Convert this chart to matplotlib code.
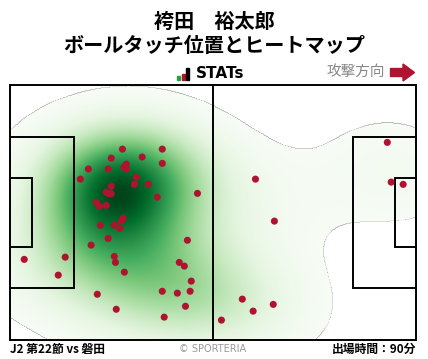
import numpy as np
import matplotlib
matplotlib.use("Agg")
import matplotlib.pyplot as plt
from matplotlib.colors import PowerNorm
from matplotlib.patches import Rectangle, Polygon

# タッチ位置 (m, 105x68 ピッチ, 左→右に攻撃)
touch_x = [29.0, 39.3, 26.1, 34.1, 39.3, 20.2, 25.3, 29.4, 30.0, 30.0,
           18.1, 32.6, 32.1, 35.7, 26.1, 24.8, 25.5, 26.1, 38.0, 48.4,
           22.2, 23.0, 24.8, 29.2, 28.7, 23.3, 26.9, 28.4, 25.3, 20.9,
           45.8, 3.6, 14.2, 12.4, 26.9, 27.2, 43.7, 45.0, 29.5, 46.8,
           22.5, 39.3, 43.2, 46.5, 45.3, 27.4, 39.8, 97.5, 98.5, 101.6,
           63.4, 68.3, 60.0, 62.8, 68.0, 54.6]
touch_y = [50.9, 50.9, 48.5, 48.8, 47.1, 45.6, 45.6, 46.1, 46.9, 45.6,
           42.9, 43.4, 41.5, 41.5, 41.0, 39.4, 39.0, 39.0, 38.1, 39.1,
           36.7, 35.7, 35.9, 32.5, 31.7, 30.6, 30.6, 29.8, 27.1, 25.3,
           26.6, 21.5, 22.1, 17.3, 22.3, 20.7, 20.7, 19.7, 18.1, 15.7,
           12.2, 13.0, 12.5, 13.0, 9.0, 8.2, 6.1, 52.7, 42.1, 41.5,
           42.9, 31.7, 10.9, 7.7, 9.5, 5.3]

player = "袴田　裕太郎"
title = "ボールタッチ位置とヒートマップ"
match_info = "J2 第22節 vs 磐田"
minutes = "出場時間：90分"

jp = ["Noto Sans CJK JP", "DejaVu Sans"]
W, H = 428, 359
red = "#b0132f"

fig = plt.figure(figsize=(W / 100, H / 100), dpi=100)


def fx(px):
    return px / W


def fy(py):
    return 1 - py / H


# ヘッダー
fig.text(fx(214), fy(21.5), player, ha="center", va="center", fontsize=14.5,
         fontweight="bold", family=jp)
fig.text(fx(214), fy(46), title, ha="center", va="center", fontsize=14.5,
         fontweight="bold", family=jp)

# STATs ロゴ
for x0, y0, col in [(177, 76, "#2e9e3e"), (181.5, 73.5, red), (186, 68, "black")]:
    fig.patches.append(Rectangle((fx(x0), fy(80)), 3 / W, (80 - y0) / H,
                                 transform=fig.transFigure, color=col))
fig.text(fx(195.5), fy(74), "STATs", ha="left", va="center", fontsize=11,
         fontweight="bold", family="DejaVu Sans")

fig.text(fx(385), fy(72), "攻撃方向", ha="right", va="center", fontsize=10.5,
         color="#888888", family=jp)
arrow = [(390.5, 68.5), (403, 68.5), (403, 64), (414.5, 72.5),
         (403, 81), (403, 76.5), (390.5, 76.5)]
fig.patches.append(Polygon([(fx(a), fy(b)) for a, b in arrow], closed=True,
                           transform=fig.transFigure, color=red))

# ピッチ
ax = fig.add_axes([fx(10.3), fy(340), 406 / W, 255 / H])
ax.set_xlim(0, 105)
ax.set_ylim(0, 68)
ax.axis("off")

# ヒートマップ (ガウスカーネル密度)
pts = np.vstack([touch_x, touch_y])
n = pts.shape[1]
bw = 1.35 * n ** (-1 / 6)
cov = np.cov(pts) * bw ** 2
inv = np.linalg.inv(cov)
gx, gy = np.meshgrid(np.linspace(0, 105, 420), np.linspace(0, 68, 272))
dx = gx[..., None] - pts[0]
dy = gy[..., None] - pts[1]
q = inv[0, 0] * dx ** 2 + 2 * inv[0, 1] * dx * dy + inv[1, 1] * dy ** 2
dens = np.exp(-0.5 * q).sum(axis=-1)
thresh = 0.06 * dens.max()
dens = np.where(dens < thresh, np.nan, dens)
ax.imshow(dens, origin="lower", extent=(0, 105, 0, 68), aspect="auto",
          cmap="Greens", norm=PowerNorm(1.25, vmin=thresh, vmax=np.nanmax(dens)),
          interpolation="bilinear", zorder=1)

lw = 1.4
lines = [
    ([0, 105, 105, 0, 0], [0, 0, 68, 68, 0]),
    ([52.5, 52.5], [0, 68]),
    ([0, 16.5, 16.5, 0], [13.84, 13.84, 54.16, 54.16]),
    ([0, 5.5, 5.5, 0], [24.84, 24.84, 43.16, 43.16]),
    ([105, 88.5, 88.5, 105], [13.84, 13.84, 54.16, 54.16]),
    ([105, 99.5, 99.5, 105], [24.84, 24.84, 43.16, 43.16]),
]
for lx, ly in lines:
    ax.plot(lx, ly, color="black", lw=lw, zorder=2, clip_on=False,
            solid_joinstyle="miter")

ax.scatter(touch_x, touch_y, s=26, color=red, edgecolors="none", zorder=3)

# フッター
fig.text(fx(10), fy(349), match_info, ha="left", va="center", fontsize=8.5,
         fontweight="bold", family=jp)
fig.text(fx(213), fy(348.5), "© SPORTERIA", ha="center", va="center",
         fontsize=7, color="#999999", family="DejaVu Sans")
fig.text(fx(416.5), fy(349), minutes, ha="right", va="center", fontsize=8.5,
         fontweight="bold", family=jp)

fig.savefig("out.png", dpi=100, facecolor="white")
